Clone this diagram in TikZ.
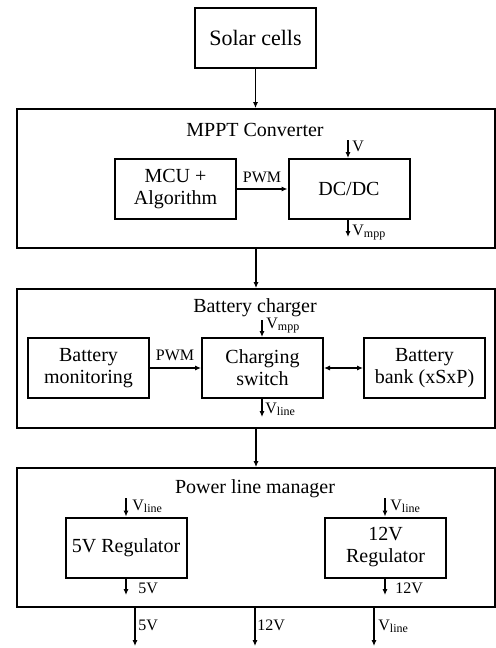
\documentclass[tikz,border=0pt]{standalone}
\usepackage{fontspec}
\setmainfont{Liberation Serif}
\usepackage{xcolor}
\usepackage{tikz}
\usetikzlibrary{arrows.meta}

\begin{document}
\begin{tikzpicture}[x=0.5pt,y=-0.5pt]
			\tikzstyle{block} = [draw, line width=1pt, minimum width=60.5pt, minimum height=30pt, inner sep=0pt, align=center, font=\fontsize{10}{11}\selectfont]
			\tikzstyle{stage} = [draw, line width=0.9pt, minimum width=239pt, minimum height=69.5pt, inner sep=0pt]
			\tikzstyle{title} = [font=\fontsize{10}{12}\selectfont]
			\tikzstyle{tag} = [inner sep=0pt, font=\fontsize{8}{9}\selectfont]
			\tikzset{edge/.style = {line width=0.8pt, -{Latex[length=3pt,width=2.6pt]}}}
			\tikzset{twoway/.style = {line width=0.8pt, {Latex[length=3pt,width=2.6pt]}-{Latex[length=3pt,width=2.6pt]}}}

			\useasboundingbox (0,0) rectangle (496,648);

			\node[block, font=\fontsize{11}{12}\selectfont](solar) at (255.5,38) {Solar cells};

			% MPPT converter
			\node[stage](mppt) at (256,178.5) {};
			\node[title](mpptname) at (255,130) {MPPT Converter};
			\node[block](mcu) at (175.5,189) {MCU +\\Algorithm};
			\node[block](dcdc) at (349,189) {DC/DC};
			\draw[edge](mcu) to (dcdc);
			\node[tag](pwmA) at (262,177) {PWM};
			\coordinate (vin) at (348,140);
			\coordinate (vmppout) at (348,237);
			\draw[edge](vin) to (vin |- dcdc.north);
			\draw[edge](vmppout |- dcdc.south) to (vmppout);
			\node[tag, anchor=base west](vinname) at (352,151) {V};
			\node[tag, anchor=base west](vmppname) at (352,235) {V\textsubscript{mpp}};

			% battery charger
			\node[stage](charger) at (256,358.5) {};
			\node[title](chargername) at (255,308) {Battery charger};
			\node[block](monitor) at (88.5,368) {Battery\\monitoring};
			\node[block](switch) at (262.5,368) {Charging\\switch};
			\node[block](bank) at (424.5,368) {Battery\\bank (xSxP)};
			\draw[edge](monitor) to (switch);
			\draw[twoway](switch) to (bank);
			\node[tag](pwmB) at (175,355) {PWM};
			\coordinate (vmppin) at (262,320);
			\coordinate (vlineout) at (262,417);
			\draw[edge](vmppin) to (vmppin |- switch.north);
			\draw[edge](vlineout |- switch.south) to (vlineout);
			\node[tag, anchor=base west](vmppinname) at (266,328) {V\textsubscript{mpp}};
			\node[tag, anchor=base west](vlinename) at (265,413) {V\textsubscript{line}};

			% power line manager
			\node[stage](manager) at (256,537.5) {};
			\node[title](managername) at (255,489) {Power line manager};
			\node[block](regfive) at (126,547.5) {5V Regulator};
			\node[block](regtwelve) at (385.5,547.5) {12V\\Regulator};
			\coordinate (fivein) at (126,498);
			\coordinate (twelvein) at (385,498);
			\coordinate (fiveout) at (126,595);
			\coordinate (twelveout) at (385,595);
			\draw[edge](fivein) to (fivein |- regfive.north);
			\draw[edge](twelvein) to (twelvein |- regtwelve.north);
			\draw[edge](fiveout |- regfive.south) to (fiveout);
			\draw[edge](twelveout |- regtwelve.south) to (twelveout);
			\node[tag, anchor=base west](fiveinname) at (132,510) {V\textsubscript{line}};
			\node[tag, anchor=base west](twelveinname) at (390,510) {V\textsubscript{line}};
			\node[tag, anchor=base west](fiveoutname) at (138,593) {5V};
			\node[tag, anchor=base west](twelveoutname) at (395,593) {12V};

			% outputs
			\coordinate (linefive) at (135,646);
			\coordinate (linetwelve) at (255,646);
			\coordinate (linebatt) at (374,646);
			\draw[edge](linefive |- manager.south) to (linefive);
			\draw[edge](linetwelve |- manager.south) to (linetwelve);
			\draw[edge](linebatt |- manager.south) to (linebatt);
			\node[tag, anchor=base west](linefivename) at (138,630) {5V};
			\node[tag, anchor=base west](linetwelvename) at (257,630) {12V};
			\node[tag, anchor=base west](linebattname) at (378,630) {V\textsubscript{line}};

			% links between stages
			\draw[edge](solar.south) to (solar.south |- mppt.north);
			\draw[edge](mppt.south) to (charger.north);
			\draw[edge](charger.south) to (manager.north);
			\end{tikzpicture}
\end{document}
